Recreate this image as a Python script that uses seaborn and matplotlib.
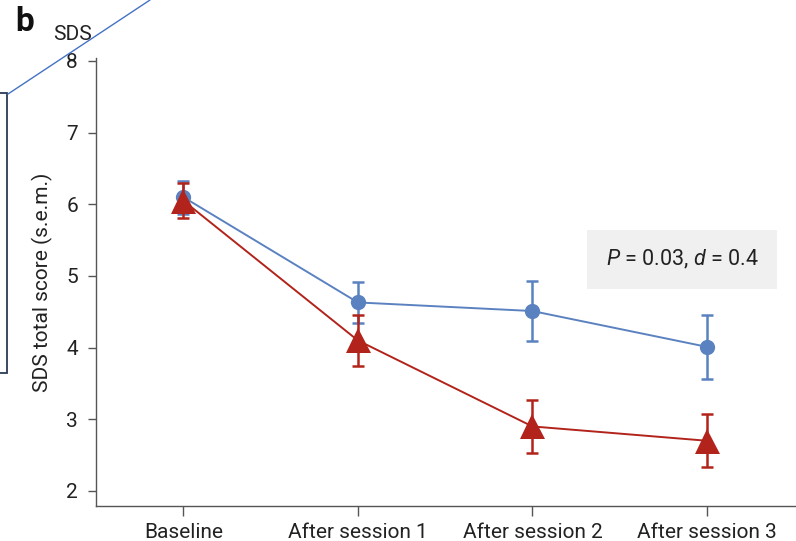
import numpy as np
import pandas as pd
import seaborn as sns
import matplotlib.pyplot as plt
from matplotlib.patches import Rectangle
from matplotlib.lines import Line2D

sessions = ['Baseline', 'After session 1', 'After session 2', 'After session 3']
blue_mean = [6.10, 4.63, 4.51, 4.01]
blue_sem = [0.23, 0.29, 0.42, 0.45]
red_mean = [6.05, 4.10, 2.90, 2.70]
red_sem = [0.24, 0.36, 0.37, 0.37]
y_ticks = [2, 3, 4, 5, 6, 7, 8]
stats_label = r'$\it{P}$ = 0.03, $\it{d}$ = 0.4'

blue = '#5b82c0'
red = '#b2241b'

df = pd.DataFrame({
    'session': sessions * 2,
    'score': blue_mean + red_mean,
    'group': ['blue'] * 4 + ['red'] * 4,
})

sns.set_style('ticks')
plt.rcParams['font.family'] = ['Roboto', 'DejaVu Sans']
plt.rcParams['mathtext.fontset'] = 'custom'
plt.rcParams['mathtext.rm'] = 'Roboto'
plt.rcParams['mathtext.it'] = 'Roboto:italic'

fs = 15

fig = plt.figure(figsize=(7.96, 5.41), dpi=100)
ax = fig.add_axes([96 / 796, 1 - 506 / 541, 1 - 96 / 796, (506 - 58) / 541])

# blue series first, red on top
ax.errorbar(sessions, blue_mean, yerr=blue_sem, fmt='none', ecolor=blue,
            elinewidth=1.8, capsize=4.5, capthick=1.8, zorder=2)
sns.lineplot(data=df[df['group'] == 'blue'], x='session', y='score', color=blue,
             marker='o', markersize=11, markeredgewidth=0, linewidth=1.4, ax=ax, zorder=3)
ax.errorbar(sessions, red_mean, yerr=red_sem, fmt='none', ecolor=red,
            elinewidth=1.8, capsize=4.5, capthick=1.8, zorder=4)
sns.lineplot(data=df[df['group'] == 'red'], x='session', y='score', color=red,
             marker='^', markersize=18, markeredgewidth=0, linewidth=1.4, ax=ax, zorder=5)

ax.set_xlim(-0.5, 3.51)
ax.set_ylim(1.79, 8.04)
ax.set_yticks(y_ticks)
ax.set_xlabel('')
ax.set_ylabel('SDS total score (s.e.m.)', fontsize=fs, color='#222222')
ax.yaxis.set_label_coords(-0.062, 0.5)

for side in ['top', 'right']:
    ax.spines[side].set_visible(False)
for side in ['left', 'bottom']:
    ax.spines[side].set_color('#555555')
    ax.spines[side].set_linewidth(1.0)
ax.tick_params(axis='y', length=6, width=1, color='#555555', pad=7,
               labelsize=fs, labelcolor='#222222')
ax.tick_params(axis='x', length=7, width=1, color='#555555', pad=5,
               labelsize=fs, labelcolor='#222222')

ax.text(2.857, 5.23, stats_label, ha='center', va='center', fontsize=15.5,
        color='#222222',
        bbox=dict(boxstyle='square,pad=0.85', facecolor='#f0f0f0', edgecolor='none'))

fig.text(25 / 796, 1 - 22 / 541, 'b', fontsize=24, fontweight='bold',
         ha='center', va='center', color='#111111')
fig.text(73 / 796, 1 - 34 / 541, 'SDS', fontsize=fs, ha='center', va='center',
         color='#222222')

# leftovers from the neighbouring panel
fig.add_artist(Rectangle((-10 / 796, 1 - 373 / 541), 17 / 796, (373 - 93) / 541,
                         transform=fig.transFigure, fill=False,
                         edgecolor='#2b3a55', linewidth=1.3))
fig.add_artist(Line2D([8 / 796, 150 / 796], [1 - 94 / 541, 1.0],
                      transform=fig.transFigure, color='#4472c4', linewidth=1.0))

fig.savefig('out.png', dpi=100)
